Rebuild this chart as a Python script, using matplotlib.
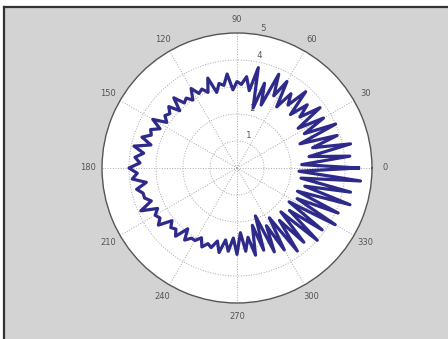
import numpy as np
import matplotlib
matplotlib.use("Agg")
import matplotlib.pyplot as plt
from matplotlib.patches import Rectangle
from matplotlib.lines import Line2D

# angles in degrees (every 3 degrees) and radius values
angles_deg = list(range(0, 360, 3))
radius = [
    4.5, 2.4, 4.2, 2.7, 4.3, 2.9, 3.9, 2.5, 4.0, 2.8,
    3.7, 2.7, 3.8, 3.0, 3.5, 2.8, 3.8, 3.0, 3.4, 2.7,
    3.7, 3.0, 3.8, 2.5, 3.3, 2.3, 3.8, 2.9, 3.4, 3.1,
    3.2, 2.9, 3.5, 3.1, 3.2, 2.9, 3.5, 3.0, 3.2, 3.1,
    3.4, 3.0, 3.2, 3.1, 3.5, 3.0, 3.4, 3.2, 3.3, 3.1,
    3.6, 3.2, 3.5, 3.4, 3.7, 3.3, 3.9, 3.5, 3.8, 3.6,
    4.0, 3.7, 3.9, 3.4, 3.8, 3.6, 3.6, 3.4, 3.9, 3.3,
    3.5, 3.4, 3.6, 3.1, 3.3, 3.2, 3.4, 2.9, 3.3, 3.1,
    3.1, 2.9, 3.2, 3.0, 3.1, 2.8, 3.2, 2.7, 3.1, 2.6,
    3.2, 2.4, 3.1, 2.6, 3.3, 2.2, 3.2, 1.9, 3.4, 2.4,
    3.5, 2.2, 3.8, 2.5, 3.7, 2.3, 4.0, 2.5, 3.9, 2.3,
    4.2, 2.5, 4.1, 2.4, 4.4, 2.6, 4.3, 2.4, 4.6, 2.3,
]
ring_values = [1, 2, 3, 4, 5]
spoke_angles = [0, 30, 60, 90, 120, 150, 180, 210, 240, 270, 300, 330]
rmax = 5

W, H = 448, 339
fig = plt.figure(figsize=(W / 100, H / 100), dpi=100, facecolor="white")

# grey figure panel with dark top/left frame
fig.add_artist(Rectangle((4 / W, 0), 1 - 4 / W, 1 - 7 / H, transform=fig.transFigure,
                         facecolor="#d3d3d3", edgecolor="none", zorder=0))
fig.add_artist(Line2D([4 / W, 1], [1 - 7 / H, 1 - 7 / H], transform=fig.transFigure,
                      color="#333333", lw=1.6, zorder=1))
fig.add_artist(Line2D([4 / W, 4 / W], [0, 1 - 7 / H], transform=fig.transFigure,
                      color="#333333", lw=1.6, zorder=1))

cx, cy, R = 237, 168, 135
ax = fig.add_axes([(cx - R) / W, (H - cy - R) / H, 2 * R / W, 2 * R / H],
                  projection="polar")
ax.set_facecolor("white")
ax.set_ylim(0, rmax)
ax.grid(False)
ax.set_xticks([])
ax.set_yticks([])
ax.spines["polar"].set_color("#555555")
ax.spines["polar"].set_linewidth(1.0)

th_full = np.linspace(0, 2 * np.pi, 361)
for r in ring_values[:-1]:
    ax.plot(th_full, np.full_like(th_full, r), color="#a8a8a8", lw=0.7, ls=":", zorder=1)
for a in spoke_angles:
    t = np.deg2rad(a)
    ax.plot([t, t], [0, rmax], color="#a8a8a8", lw=0.7, ls=":", zorder=1)

# angle labels
for a in spoke_angles:
    t = np.deg2rad(a)
    ax.text(t, rmax * 1.1, str(a), ha="center", va="center", fontsize=6,
            color="#555555", clip_on=False)

# radial labels at 82 degrees
t82 = np.deg2rad(82)
for r in ring_values:
    ax.text(t82, r + 0.05, "  " + str(r), ha="left", va="bottom", fontsize=6,
            color="#555555", clip_on=False, zorder=2)

theta = np.deg2rad(angles_deg + [angles_deg[0]])
rr = radius + [radius[0]]
ax.plot(theta, rr, color="#2e2a8a", lw=2.3, zorder=3)

fig.savefig("out.png", dpi=100, facecolor=fig.get_facecolor())
